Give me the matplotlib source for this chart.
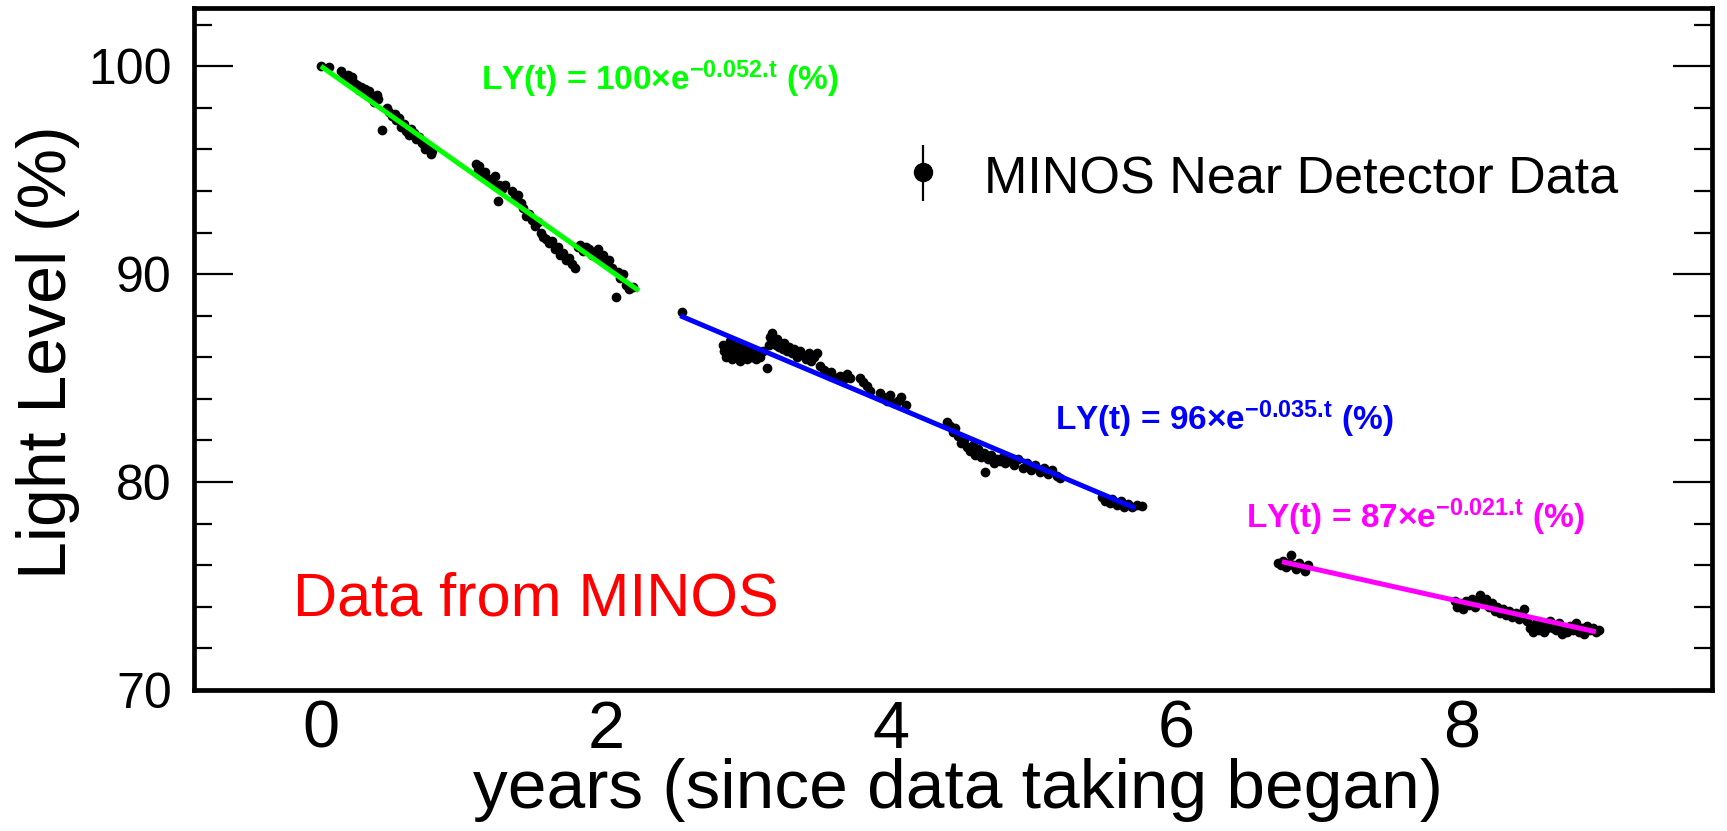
import matplotlib
matplotlib.use("Agg")
import matplotlib.pyplot as plt

plt.rcParams['font.family'] = ['Liberation Sans', 'DejaVu Sans']
plt.rcParams['mathtext.fontset'] = 'custom'
plt.rcParams['mathtext.rm'] = 'Liberation Sans'
plt.rcParams['mathtext.bf'] = 'Liberation Sans:bold'
plt.rcParams['mathtext.it'] = 'Liberation Sans:italic'

# ---------------- data ----------------
# period 1 (green fit)
t1 = [0.00, 0.06, 0.14, 0.16, 0.17, 0.19, 0.20, 0.22, 0.23, 0.25, 0.27, 0.28, 0.30, 0.31,
      0.33, 0.34, 0.36, 0.37, 0.39, 0.40, 0.43, 0.46, 0.48, 0.50, 0.52, 0.53, 0.55, 0.56,
      0.58, 0.60, 0.62, 0.63, 0.65, 0.67, 0.69, 0.71, 0.73, 0.75, 0.77, 0.78,
      1.09, 1.10, 1.11, 1.13, 1.15, 1.18, 1.20, 1.22, 1.24, 1.25, 1.27, 1.29, 1.34, 1.36,
      1.38, 1.40, 1.42, 1.44, 1.46, 1.48, 1.50, 1.52, 1.54, 1.56, 1.58, 1.60, 1.62, 1.64,
      1.66, 1.68, 1.70, 1.72, 1.74, 1.76, 1.78, 1.80, 1.82, 1.84, 1.86, 1.88, 1.90, 1.92,
      1.94, 1.96, 1.98, 2.00, 2.02, 2.04, 2.07, 2.08, 2.10, 2.12, 2.14, 2.16, 2.19]
ly1 = [100.0, 99.95, 99.75, 99.55, 99.4, 99.6, 99.3, 99.5, 99.2, 99.1, 98.85, 99.0, 98.7, 98.9,
       98.6, 98.8, 98.5, 98.3, 98.6, 98.4, 96.95, 98.0, 97.8, 97.6, 97.7, 97.4, 97.5, 97.1,
       97.2, 96.9, 96.7, 97.0, 96.8, 96.5, 96.6, 96.3, 96.0, 96.2, 95.8, 95.9,
       95.3, 95.0, 95.2, 94.8, 94.9, 94.6, 94.5, 94.7, 93.5, 94.3, 94.1, 94.3, 94.0, 93.7,
       93.8, 93.4, 93.2, 92.8, 92.9, 92.6, 92.3, 92.5, 92.0, 91.8, 91.7, 91.5, 91.6, 91.2,
       91.3, 90.9, 91.0, 90.7, 90.8, 90.5, 90.3, 91.3, 91.4, 91.1, 91.3, 91.2, 90.9, 91.0,
       91.2, 90.8, 90.9, 90.6, 90.7, 90.3, 88.9, 90.1, 89.8, 90.0, 89.5, 89.3, 89.4]

# period 2 (blue fit)
t2 = [2.53, 2.82, 2.83, 2.84, 2.85, 2.86, 2.87, 2.88, 2.89, 2.90, 2.91, 2.92, 2.93, 2.94,
      2.95, 2.96, 2.97, 2.98, 2.99, 3.00, 3.01, 3.02, 3.03, 3.05, 3.06, 3.08, 3.10, 3.13,
      3.14, 3.15, 3.16, 3.17, 3.18, 3.19, 3.20, 3.21, 3.22, 3.24, 3.25, 3.27, 3.28, 3.30,
      3.32, 3.34, 3.36, 3.38, 3.40, 3.42, 3.44, 3.46, 3.48, 3.50, 3.53, 3.56, 3.58, 3.61,
      3.64, 3.66, 3.69, 3.71, 3.78, 3.80, 3.83, 3.85, 3.92, 3.94, 3.97, 3.99, 4.02, 4.05,
      4.07, 4.10, 4.39, 4.41, 4.43, 4.45, 4.47, 4.49, 4.51, 4.53, 4.55, 4.57, 4.59, 4.61,
      4.63, 4.65, 4.66, 4.68, 4.70, 4.72, 4.74, 4.76, 4.78, 4.80, 4.83, 4.86, 4.89, 4.92,
      4.95, 4.98, 5.01, 5.04, 5.07, 5.10, 5.13, 5.16, 5.18, 5.48, 5.50, 5.53, 5.55, 5.58,
      5.61, 5.63, 5.66, 5.69, 5.72, 5.76]
ly2 = [88.2, 86.6, 86.3, 86.0, 86.5, 86.2, 86.8, 85.9, 86.4, 86.1, 86.6, 86.0, 86.3, 85.8,
       86.2, 86.5, 86.0, 86.3, 85.9, 86.1, 86.4, 86.0, 86.2, 85.9, 86.2, 86.0, 86.3, 85.5,
       86.6, 87.0, 87.15, 86.8, 86.9, 86.6, 86.9, 86.5, 86.7, 86.4, 86.7, 86.3, 86.5, 86.2,
       86.4, 86.0, 86.3, 86.1, 85.9, 86.2, 85.8, 86.0, 86.2, 85.6, 85.4, 85.2, 85.3, 85.0,
       85.1, 84.9, 85.2, 85.0, 85.0, 84.8, 84.6, 84.4, 84.3, 84.1, 83.9, 84.2, 83.8, 83.9,
       84.1, 83.7, 82.9, 82.7, 82.4, 82.6, 82.2, 81.9, 82.0, 81.7, 81.5, 81.8, 81.3, 81.6,
       81.2, 81.4, 80.5, 81.1, 81.3, 80.9, 81.1, 81.0, 81.2, 80.9, 81.0, 80.8, 81.1, 80.7,
       80.9, 80.6, 80.8, 80.5, 80.7, 80.4, 80.6, 80.3, 80.2, 79.3, 79.1, 79.0, 79.2, 78.9,
       79.1, 78.8, 78.95, 78.8, 78.9, 78.85]

# period 3 (magenta fit)
t3 = [6.71, 6.73, 6.75, 6.77, 6.79, 6.80, 6.82, 6.84, 6.86, 6.88, 6.90, 6.92,
      7.95, 7.97, 7.99, 8.01, 8.03, 8.05, 8.07, 8.09, 8.11, 8.13, 8.15, 8.17, 8.19, 8.21,
      8.23, 8.25, 8.27, 8.29, 8.31, 8.33, 8.35, 8.38, 8.40, 8.42, 8.44, 8.46, 8.48, 8.50,
      8.52, 8.54, 8.56, 8.58, 8.60, 8.62, 8.64, 8.66, 8.68, 8.70, 8.72, 8.74, 8.76, 8.78,
      8.80, 8.82, 8.84, 8.86, 8.88, 8.90, 8.92, 8.94, 8.96]
ly3 = [76.1, 76.0, 76.2, 75.9, 76.1, 76.5, 76.0, 75.8, 76.1, 75.9, 75.7, 76.0,
       74.3, 74.0, 74.2, 73.9, 74.3, 74.1, 74.4, 74.0, 74.3, 74.55, 74.2, 74.4, 74.0, 74.2,
       73.8, 74.0, 73.7, 73.9, 73.6, 73.8, 73.5, 73.7, 73.4, 73.6, 73.9, 73.3, 73.0, 72.8,
       73.2, 72.9, 73.1, 72.8, 73.0, 73.3, 73.0, 72.9, 73.2, 72.7, 73.0, 72.8, 73.1, 72.9,
       73.2, 72.8, 73.0, 72.7, 73.1, 72.9, 73.0, 72.8, 72.9]

# fit lines (end points)
fit1_t, fit1_ly = [0.0, 2.23], [100.0, 89.2]
fit2_t, fit2_ly = [2.52, 5.71], [88.0, 78.75]
fit3_t, fit3_ly = [6.74, 8.94], [76.17, 72.8]

fit_labels = ['LY(t) = 100×e$^{\\mathbf{-0.052.\\!t}}$ (%)',
              'LY(t) = 96×e$^{\\mathbf{-0.035.\\!t}}$ (%)',
              'LY(t) = 87×e$^{\\mathbf{-0.021.\\!t}}$ (%)']
fit_colors = ['#00ff00', '#0000ff', '#ff00ff']

x_ticks = [0, 2, 4, 6, 8]
y_ticks = [70, 80, 90, 100]

# ---------------- figure ----------------
W, H = 1727, 831
fig = plt.figure(figsize=(W / 100, H / 100), dpi=100)
ax_l, ax_r, ax_t, ax_b = 194, 1712, 8, 690
ax = fig.add_axes([ax_l / W, 1 - ax_b / H, (ax_r - ax_l) / W, (ax_b - ax_t) / H])

for tt, ll in ((t1, ly1), (t2, ly2), (t3, ly3)):
    ax.plot(tt, ll, 'o', color='black', ms=7, mew=0, zorder=2)

for (ft, fl), c in zip(((fit1_t, fit1_ly), (fit2_t, fit2_ly), (fit3_t, fit3_ly)), fit_colors):
    ax.plot(ft, fl, '-', color=c, lw=3.6, solid_capstyle='butt', zorder=3)

ax.set_xlim(-0.89, 9.755)
ax.set_ylim(70, 102.8)

ax.set_xticks(x_ticks)
ax.set_xticklabels([str(v) for v in x_ticks])
ax.set_yticks(y_ticks)
ax.set_yticks(list(range(72, 103, 2)), minor=True)
ax.tick_params(axis='x', which='both', length=0, labelsize=48, pad=7)
ax.tick_params(axis='y', which='major', direction='in', length=28, width=1.6,
               labelsize=36, pad=16, right=True)
ax.tick_params(axis='y', which='minor', direction='in', length=13, width=1.6, right=True)

for s in ax.spines.values():
    s.set_linewidth(3.4)
    s.set_color('black')

ax.set_xlabel('years (since data taking began)', fontsize=50)
ax.xaxis.set_label_coords(0.503, -0.1)
ax.set_ylabel('Light Level (%)', fontsize=49)
ax.yaxis.set_label_coords(-0.075, 0.496)

# fit formulas
ax.text(1.122, 98.85, fit_labels[0], color=fit_colors[0], fontsize=24,
        fontweight='bold', va='baseline', ha='left')
ax.text(5.147, 82.5, fit_labels[1], color=fit_colors[1], fontsize=24,
        fontweight='bold', va='baseline', ha='left')
ax.text(6.487, 77.79, fit_labels[2], color=fit_colors[2], fontsize=24,
        fontweight='bold', va='baseline', ha='left')

ax.text(-0.196, 73.56, 'Data from MINOS', color='#ff0000', fontsize=44,
        va='baseline', ha='left')

# legend entry
ax.errorbar([4.222], [94.9], yerr=[[1.4], [1.3]], fmt='o', color='black', ms=13,
            elinewidth=1.6, capsize=0, zorder=4)
ax.text(4.649, 93.9, 'MINOS Near Detector Data', fontsize=37.5,
        va='baseline', ha='left')

fig.savefig('out.png', dpi=100, facecolor='white')
